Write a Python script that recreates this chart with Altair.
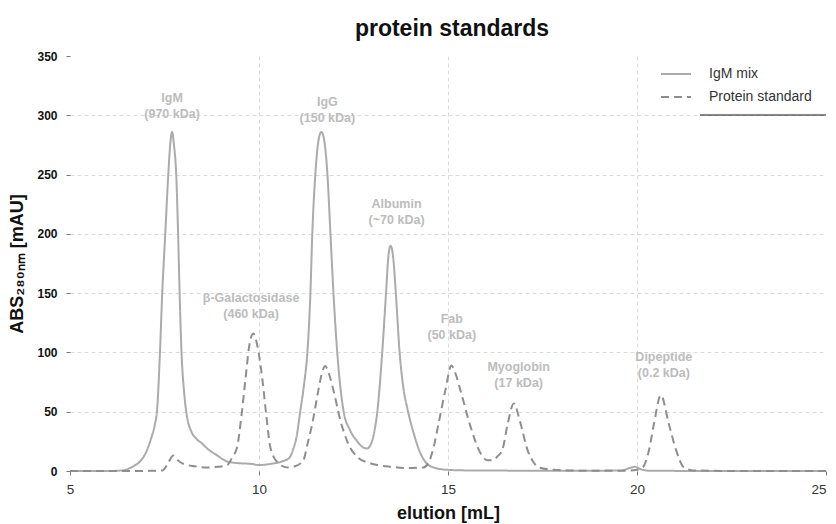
import altair as alt
import pandas as pd

# ---- data ----
mix_x = [5.0, 6.0, 6.4, 6.67, 6.85, 7.0, 7.15, 7.25, 7.30, 7.38, 7.44, 7.52, 7.6, 7.65, 7.7,
         7.75, 7.81, 7.86, 7.9, 7.95, 8.02, 8.1, 8.2, 8.35, 8.5, 8.63, 8.9, 9.16, 9.5, 9.8, 10.0,
         10.3, 10.6, 10.8, 10.9, 11.0, 11.09, 11.2, 11.28, 11.36, 11.41, 11.49, 11.57, 11.65,
         11.73, 11.81, 11.89, 11.97, 12.07, 12.24, 12.4, 12.6, 12.75, 12.86, 12.95, 13.05,
         13.13, 13.26, 13.36, 13.42, 13.48, 13.55, 13.62, 13.72, 13.82, 13.93, 14.09, 14.27,
         14.45, 14.62, 14.98, 15.5, 17.0, 19.0, 19.6, 19.8, 19.95, 20.1, 20.3, 22.0, 25.0]
mix_y = [0, 0, 0.5, 4, 8, 15, 28, 40, 50, 100, 150, 200, 250, 275, 286,
         275, 250, 200, 150, 100, 66, 45, 34, 27, 23, 19, 13, 8, 6.5, 6, 5,
         6, 8, 11, 18, 30, 50, 75, 100, 150, 200, 250, 278, 286,
         278, 250, 200, 150, 100, 50, 35, 25, 20, 19, 22, 33,
         50, 100, 150, 180, 190, 180, 150, 100, 70, 52, 32, 15,
         6, 3, 1, 0.5, 0.3, 0.3, 0.5, 2.5, 3.5, 1.5, 0.3, 0, 0]

std_x = [5.0, 6.67, 7.45, 7.6, 7.73, 7.85, 8.0, 8.3, 8.63, 8.9, 9.16, 9.3, 9.42, 9.53, 9.64,
         9.74, 9.85, 9.96, 10.09, 10.2, 10.3, 10.5, 10.75, 10.95, 11.17, 11.3, 11.41, 11.57,
         11.66, 11.75, 11.85, 11.97, 12.15, 12.36, 12.63, 12.9, 13.13, 13.5, 13.93, 14.35,
         14.5, 14.62, 14.75, 14.93, 15.09, 15.2, 15.33, 15.6, 15.86, 16.05, 16.18, 16.3,
         16.44, 16.58, 16.74, 16.92, 17.1, 17.25, 17.4, 17.8, 18.5, 19.8, 20.0, 20.15,
         20.32, 20.45, 20.63, 20.84, 21.03, 21.24, 21.5, 22.5, 25.0]
std_y = [0, 0, 0.5, 7, 13, 9, 6, 4, 3, 3.5, 5, 12, 20, 45, 77,
         105, 116, 105, 77, 45, 20, 7, 3, 4, 9, 25, 40, 68,
         82, 88.5, 82, 68, 43, 23, 11, 7, 5, 3.5, 2.5, 3,
         8, 20, 40, 68, 89, 82, 68, 37, 15, 9, 9, 12,
         18, 40, 57, 40, 18, 8, 3, 1, 0.3, 0.3, 1, 3,
         18, 40, 64, 40, 18, 3, 0.5, 0, 0]

series_names = ["IgM mix", "Protein standard"]

peak_names = ["IgM", "IgG", "Albumin", "β-Galactosidase", "Fab", "Myoglobin", "Dipeptide"]
peak_sizes = ["(970 kDa)", "(150 kDa)", "(~70 kDa)", "(460 kDa)", "(50 kDa)", "(17 kDa)", "(0.2 kDa)"]
label_x = [7.70, 11.81, 13.64, 9.79, 15.10, 16.87, 20.71]
label_y = [315, 311, 225, 146, 128, 88, 96]

x_ticks = [5, 10, 15, 20, 25]
y_ticks = [0, 50, 100, 150, 200, 250, 300, 350]

FONT = "Liberation Sans"

lines = pd.concat([
    pd.DataFrame({"elution": mix_x, "abs": mix_y, "series": series_names[0]}),
    pd.DataFrame({"elution": std_x, "abs": std_y, "series": series_names[1]}),
])
labels = pd.DataFrame({
    "x": label_x, "y": label_y,
    "text": [n + "\n" + s for n, s in zip(peak_names, peak_sizes)],
})

xscale = alt.Scale(domain=[5, 25], nice=False, zero=False)
yscale = alt.Scale(domain=[0, 350], nice=False)

x_axis = alt.Axis(
    title="elution [mL]", values=x_ticks, format="d",
    domain=False, grid=True, gridColor="#dadada", gridDash=[4, 3], gridWidth=1,
    gridOpacity={"condition": {"test": "datum.value == 5 || datum.value == 25", "value": 0}, "value": 1},
    tickSize=4, tickColor="#777", labelPadding=7,
    labelAlign={"condition": {"test": "datum.value == 25", "value": "right"}, "value": "center"},
    labelFont=FONT, labelFontSize=13.5, labelColor="#333",
    titleFont=FONT, titleFontSize=18, titleFontWeight="bold", titleColor="#111", titlePadding=9,
)
y_axis = alt.Axis(
    title="ABS₂₈₀ₙₘ [mAU]", values=y_ticks,
    domain=False, grid=True, gridColor="#dadada", gridDash=[4, 3], gridWidth=1,
    gridOpacity={"condition": {"test": "datum.value == 0 || datum.value == 350", "value": 0}, "value": 1},
    tickSize=4, tickColor="#777", labelPadding=9,
    labelFont=FONT, labelFontSize=12, labelFontWeight="bold", labelColor="#111",
    titleFont=FONT, titleFontSize=18, titleFontWeight="bold", titleColor="#111", titlePadding=10,
)

line_layer = alt.Chart(lines).mark_line(strokeWidth=2, interpolate="monotone").encode(
    x=alt.X("elution:Q", scale=xscale, axis=x_axis),
    y=alt.Y("abs:Q", scale=yscale, axis=y_axis),
    color=alt.Color("series:N", scale=alt.Scale(domain=series_names, range=["#ababab", "#8e8e8e"]),
                    legend=alt.Legend(title=None)),
    strokeDash=alt.StrokeDash("series:N", scale=alt.Scale(domain=series_names, range=[[1, 0], [8, 5]]),
                              legend=alt.Legend(title=None)),
    order=alt.Order("series:N", sort="descending"),
)

text_layer = alt.Chart(labels).mark_text(
    font=FONT, fontSize=12.5, fontWeight="bold", color="#bcbcbc", lineBreak="\n", lineHeight=16,
    align="center", baseline="middle",
).encode(
    x=alt.X("x:Q", scale=xscale),
    y=alt.Y("y:Q", scale=yscale),
    text="text:N",
)

underline = alt.Chart(pd.DataFrame({"k": [0]})).mark_rule(color="#111", strokeWidth=1).encode(
    x=alt.value(630), x2=alt.value(756), y=alt.value(59)
)

chart = alt.layer(line_layer, text_layer, underline).properties(
    width=756, height=415,
    autosize=alt.AutoSizeParams(type="none"),
    padding={"left": 62, "top": 48, "right": 2, "bottom": 53},
    title=alt.TitleParams("protein standards", font=FONT, fontSize=23, fontWeight="bold",
                          color="#111", anchor="middle", frame="group", offset=9, dx=4),
).configure_view(stroke=None).configure_legend(
    orient="none", legendX=590, legendY=2, padding=0, rowPadding=-10,
    symbolType="stroke", symbolSize=900, symbolStrokeWidth=2,
    labelFont=FONT, labelFontSize=14, labelColor="#333", labelOffset=17,
)

chart.save("out.html", embed_options={"renderer": "svg", "actions": False})
